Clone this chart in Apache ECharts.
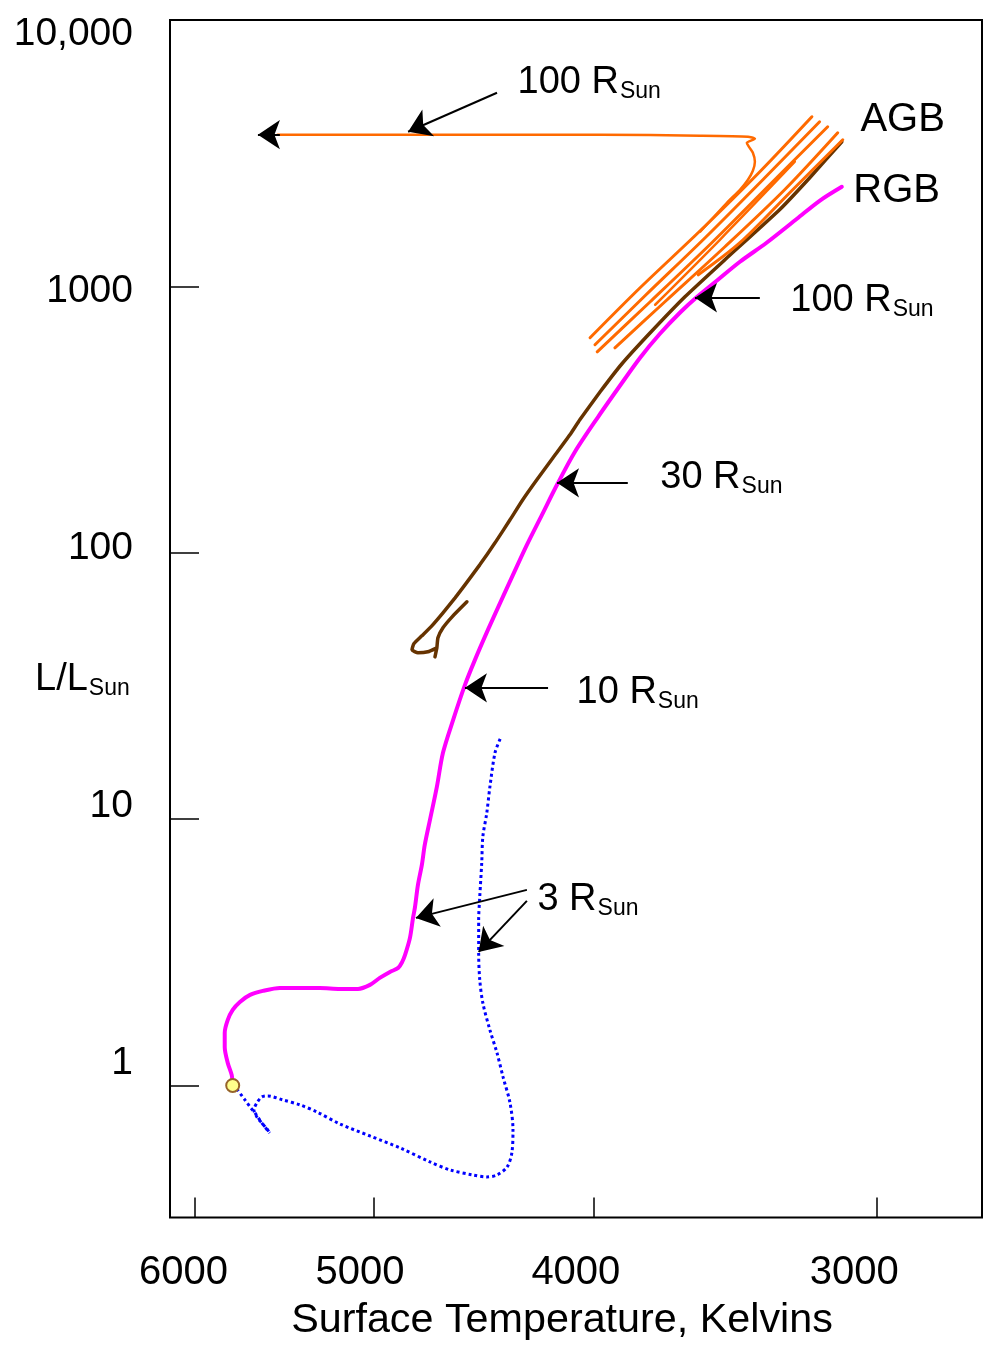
<!DOCTYPE html>
<html>
<head>
<meta charset="utf-8">
<script src="https://cdn.jsdelivr.net/npm/echarts@6/dist/echarts.min.js"></script>
<style>
  html, body { margin: 0; padding: 0; background: #ffffff; }
  #chart { width: 989px; height: 1353px; }
</style>
</head>
<body>
<div id="chart"></div>
<script>
// Evolution of a one-solar-mass star on the H-R diagram (temperature in K, luminosity in L_Sun).

const tempTicks = [6000, 5000, 4000, 3000];
const lumTicks = [1, 10, 100, 1000, 10000];

// The present-day Sun
const sun = [5772, 1.0];

// Pre-main-sequence contraction (Hayashi + Henyey), dotted
const preMainSequence = [
  [4399, 20.0], [4422, 17.73], [4445, 13.21], [4459, 10.55], [4477, 8.575],
  [4482, 6.846], [4491, 5.104], [4496, 4.183], [4496, 3.145], [4491, 2.490],
  [4477, 2.041], [4445, 1.616], [4413, 1.324], [4386, 1.076], [4355, 0.8596],
  [4342, 0.6807], [4347, 0.5579], [4368, 0.4943], [4413, 0.4612], [4459, 0.4533],
  [4523, 0.4612], [4628, 0.4816], [4724, 0.5161], [4869, 0.5825], [5021, 0.6461],
  [5176, 0.7168], [5299, 0.7952], [5390, 0.8449], [5486, 0.8823], [5570, 0.9133],
  [5604, 0.9053], [5632, 0.8596], [5649, 0.8091], [5632, 0.7614], [5604, 0.7231],
  [5575, 0.6866], [5559, 0.6633]
];
const mainSequenceBranch = [
  [5748, 0.970], [5701, 0.8823], [5671, 0.8303], [5643, 0.7882], [5604, 0.7231], [5559, 0.6633]
];

// Main sequence turn-off, subgiant branch and red giant branch
const subgiantAndRgb = [
  [5772, 1.0], [5778, 1.095], [5801, 1.215], [5819, 1.395], [5819, 1.575],
  [5801, 1.762], [5772, 1.921], [5730, 2.059], [5671, 2.187], [5598, 2.264],
  [5502, 2.323], [5390, 2.323], [5283, 2.323], [5176, 2.304], [5082, 2.304],
  [5021, 2.385], [4971, 2.533], [4920, 2.668], [4879, 2.762], [4859, 2.909],
  [4845, 3.09], [4821, 3.58], [4806, 4.256], [4797, 4.64], [4782, 5.66],
  [4763, 6.73], [4749, 8.00], [4724, 9.93], [4691, 13.21], [4662, 17.73],
  [4614, 23.58], [4559, 31.9], [4513, 39.6], [4454, 51.3], [4399, 64.8],
  [4342, 82.6], [4281, 107.1], [4216, 138.8], [4152, 179.9], [4077, 239.3],
  [3982, 323.8], [3895, 423.4], [3816, 539.5], [3740, 663.7], [3665, 796.0],
  [3601, 914], [3526, 1058.8], [3448, 1237], [3356, 1458], [3254, 1794],
  [3180, 2096], [3109, 2366]
];

// Helium flash remnant: horizontal branch, then early AGB
const horizontalBranchAndAgb = [
  [4550, 65.4], [4619, 57.44], [4662, 52.24], [4686, 47.90], [4691, 43.94],
  [4700, 40.65], [4691, 43.94], [4734, 42.46], [4782, 42.09], [4811, 43.20],
  [4802, 45.50], [4763, 48.74], [4715, 53.15], [4662, 59.46], [4605, 67.69],
  [4559, 75.76], [4491, 90.04], [4422, 108.9], [4355, 132.9], [4299, 158.0],
  [4238, 187.8], [4169, 227.2], [4098, 277.2], [4057, 315.6], [3974, 402.0],
  [3887, 512.2], [3777, 669.5], [3646, 914], [3501, 1259], [3312, 1939],
  [3212, 2557], [3109, 3491]
];

// Thermal pulses on the asymptotic giant branch
const thermalPulse1 = [[4015, 641.2], [3816, 987.9], [3590, 1617], [3379, 2694], [3205, 4334]];
const thermalPulse2 = [[3995, 603.5], [3797, 921.9], [3572, 1522], [3362, 2557], [3180, 4150]];
const thermalPulse3 = [[3986, 568.0], [3777, 875.5], [3548, 1458], [3342, 2428], [3154, 3975]];
const thermalPulse4 = [[3915, 588.0], [3721, 875.5], [3501, 1408], [3295, 2305], [3122, 3773]];
const thermalPulse5 = [[3597, 1105], [3448, 1458], [3278, 2246], [3106, 3552]];
const thermalPulse6 = [[3758, 853], [3519, 1496], [3261, 2937]];

// Post-AGB departure towards high temperature
const postAgb = [
  [3590, 1603], [3494, 2060], [3448, 2305], [3420, 2514], [3403, 2717],
  [3396, 2937], [3403, 3174], [3417, 3344], [3424, 3461], [3396, 3583],
  [3420, 3646], [3590, 3678], [3974, 3710], [4399, 3710], [4869, 3710],
  [5390, 3710], [5514, 3710]
];
const postAgbArrow = { from: [5502, 3710], to: [5626, 3710] };

// Stellar radius markers: arrow tail -> point on the track
const radiusArrows = [
  { name: '100', from: [4413, 5333], to: [4830, 3807] },
  { name: '100', from: [3379, 906.3], to: [3609, 906.3] },
  { name: '30', from: [3864, 183.0], to: [4152, 183.0] },
  { name: '10', from: [4190, 31.09], to: [4559, 31.09] },
  { name: '3', from: [4281, 5.422], to: [4792, 4.256] },
  { name: '', from: [4281, 4.929], to: [4496, 3.172] }
];

const phaseLabels = ['AGB', 'RGB'];

// ---------------------------------------------------------------------------
const lg = Math.log10;
const toXY = pts => pts.map(p => [lg(p[0]), lg(p[1])]);
const FONT = "'Liberation Sans', Arial, Helvetica, sans-serif";

const radiusRich = {
  m: { fontSize: 38, fontFamily: FONT, color: '#000', fill: '#000', lineHeight: 40, verticalAlign: 'top' },
  s: { fontSize: 23, fontFamily: FONT, color: '#000', fill: '#000', lineHeight: 23, verticalAlign: 'bottom', padding: [24, 0, 0, 1] }
};
const radiusLabelOffsets = [[20, -9.5], [30, 3.5], [32, -4.5], [28, 5.5], [10, 10.5]];
const phaseLabelOffsets = [[48, 3], [11, 4]];

function track(name, pts, color, width, extra) {
  return Object.assign({
    type: 'line', name: name, data: toXY(pts),
    xAxisIndex: 0, yAxisIndex: 0,
    showSymbol: false, symbol: 'none', silent: true,
    lineStyle: { color: color, width: width, cap: 'round', join: 'round', opacity: 1 }
  }, extra || {});
}

const ORANGE = '#ff6a00';
const dotted = { color: '#0000ff', width: 3, type: [3, 3], cap: 'butt', opacity: 1 };
const arrowData = radiusArrows.map(a => ({ coords: [[lg(a.from[0]), lg(a.from[1])], [lg(a.to[0]), lg(a.to[1])]] }));
arrowData.push({ coords: [[lg(postAgbArrow.from[0]), lg(postAgbArrow.from[1])], [lg(postAgbArrow.to[0]), lg(postAgbArrow.to[1])]] });

const labelled = radiusArrows.filter(a => a.name);

const option = {
  animation: false,
  backgroundColor: '#ffffff',
  grid: { left: 170, right: 7, top: 20, bottom: 135.5, show: true, borderColor: '#000', borderWidth: 2, backgroundColor: 'transparent' },
  xAxis: [
    {
      type: 'value', position: 'bottom', inverse: true,
      min: lg(2696.4), max: lg(6151.6),
      axisLine: { show: false, onZero: false }, splitLine: { show: false },
      axisTick: { show: true, inside: true, length: 20, customValues: tempTicks.map(lg), lineStyle: { color: '#000', width: 1.5 } },
      axisLabel: { show: false },
      name: 'Surface Temperature, Kelvins', nameLocation: 'middle', nameGap: 83,
      nameTextStyle: { fontSize: 41.3, fontFamily: FONT, color: '#000', padding: [0, 28, 0, 0] }
    },
    {
      type: 'value', position: 'bottom', inverse: true,
      min: lg(2628.7), max: lg(6085),
      axisLine: { show: false, onZero: false }, axisTick: { show: false }, splitLine: { show: false },
      axisLabel: {
        show: true, customValues: tempTicks.map(lg), margin: 35,
        fontSize: 40, fontFamily: FONT, color: '#000',
        formatter: v => String(Math.round(Math.pow(10, v)))
      }
    }
  ],
  yAxis: [
    {
      type: 'value', position: 'left',
      min: lg(0.3193), max: 4,
      axisLine: { show: false, onZero: false }, splitLine: { show: false },
      axisTick: { show: true, inside: true, length: 29, customValues: lumTicks.map(lg), lineStyle: { color: '#000', width: 1.5 } },
      axisLabel: { show: false }
    },
    {
      type: 'value', position: 'left',
      min: -0.6013, max: 4.0564,
      axisLine: { show: false, onZero: false }, axisTick: { show: false }, splitLine: { show: false },
      axisLabel: {
        show: true, customValues: lumTicks.map(lg), margin: 37,
        fontSize: 39, fontFamily: FONT, color: '#000',
        formatter: v => {
          const n = Math.round(Math.pow(10, v));
          return n >= 10000 ? n.toLocaleString('en-US') : String(n);
        }
      }
    }
  ],
  graphic: [
    {
      type: 'text', x: 35, y: 680.5, silent: true,
      style: { text: '{m|L/L}{s|Sun}', rich: radiusRich, align: 'left', verticalAlign: 'middle', fill: '#000' }
    }
  ],
  series: [
    track('pre-main-sequence', preMainSequence, '#0000ff', 3, { smooth: 0.3, lineStyle: dotted, z: 2 }),
    track('zams', mainSequenceBranch, '#0000ff', 3, { smooth: 0.3, lineStyle: dotted, z: 2 }),
    track('subgiant + RGB', subgiantAndRgb, '#ff00ff', 4, { smooth: 0.3, z: 3 }),
    track('HB + AGB', horizontalBranchAndAgb, '#663300', 3.5, { smooth: 0.15, z: 4 }),
    track('pulse 1', thermalPulse1, ORANGE, 3, { smooth: 0.3, z: 4 }),
    track('pulse 2', thermalPulse2, ORANGE, 3, { smooth: 0.3, z: 4 }),
    track('pulse 3', thermalPulse3, ORANGE, 3, { smooth: 0.3, z: 4 }),
    track('pulse 4', thermalPulse4, ORANGE, 3, { smooth: 0.3, z: 4 }),
    track('pulse 5', thermalPulse5, ORANGE, 3, { smooth: 0.3, z: 4 }),
    track('pulse 6', thermalPulse6, ORANGE, 2.5, { smooth: 0.3, z: 4 }),
    track('post-AGB', postAgb, ORANGE, 2.5, { smooth: 0.2, z: 4 }),
    {
      type: 'scatter', name: 'Sun', xAxisIndex: 0, yAxisIndex: 0, silent: true, z: 6,
      data: [[lg(sun[0]), lg(sun[1])]],
      symbol: 'circle', symbolSize: 13,
      itemStyle: { color: '#ffff8c', borderColor: '#96642a', borderWidth: 2, opacity: 1 }
    },
    {
      type: 'lines', coordinateSystem: 'cartesian2d', xAxisIndex: 0, yAxisIndex: 0, silent: true, z: 7,
      symbol: ['none', 'arrow'], symbolSize: 22,
      lineStyle: { color: '#000', width: 2, opacity: 1, curveness: 0 },
      data: arrowData
    },
    {
      type: 'scatter', name: 'radius labels', xAxisIndex: 0, yAxisIndex: 0, silent: true, z: 8,
      symbolSize: 1, itemStyle: { color: 'transparent', opacity: 1 },
      data: labelled.map((a, i) => ({ name: a.name, value: [lg(a.from[0]), lg(a.from[1])], label: { offset: radiusLabelOffsets[i] } })),
      label: { show: true, position: 'right', distance: 0, color: '#000', opacity: 1, textBorderWidth: 0, formatter: p => '{m|' + p.name + ' R}{s|Sun}', rich: radiusRich }
    },
    {
      type: 'scatter', name: 'phase labels', xAxisIndex: 0, yAxisIndex: 0, silent: true, z: 8,
      symbolSize: 1, itemStyle: { color: 'transparent', opacity: 1 },
      data: [thermalPulse1[thermalPulse1.length - 1], subgiantAndRgb[subgiantAndRgb.length - 1]].map((p, i) => ({
        name: phaseLabels[i], value: [lg(p[0]), lg(p[1])], label: { offset: phaseLabelOffsets[i] }
      })),
      label: { show: true, position: 'right', distance: 0, formatter: p => p.name, fontSize: 40, fontFamily: FONT, color: '#000', opacity: 1, textBorderWidth: 0 }
    }
  ]
};

const chart = echarts.init(document.getElementById('chart'), null, { renderer: 'canvas' });
chart.setOption(option);
</script>
</body>
</html>
